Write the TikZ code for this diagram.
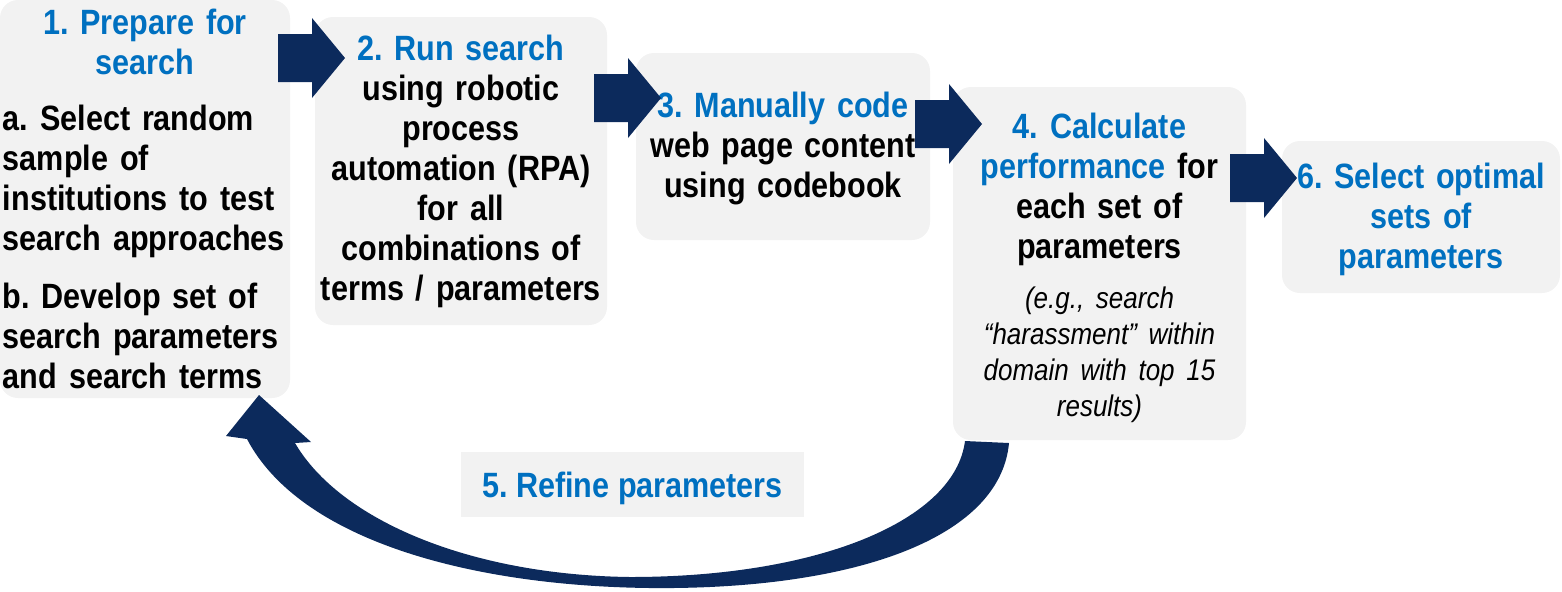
\documentclass[tikz,border=0pt]{standalone}
\usepackage{fontspec}
\setmainfont{Liberation Sans}[FakeStretch=0.87]
\usepackage{tikz}
\usetikzlibrary{positioning,calc}
\definecolor{colorbox}   {RGB}{242,242,242}
\definecolor{colortitle} {RGB}{  0,112,192}
\definecolor{colorarrow} {RGB}{ 12, 42, 92}
\definecolor{colortext}  {RGB}{  0,  0,  0}
\newcommand{\mainsize}{\fontsize{10}{11.38}\selectfont}
\newcommand{\notesize}{\fontsize{8.5}{10.25}\selectfont}
\newcommand{\topstrut}[1]{\rule{0pt}{#1}}
\frenchspacing

\begin{document}
\begin{tikzpicture}[
    font={\mainsize\bfseries},
    base/.style={fill=colorbox,text=colortext,inner xsep=0.03cm,inner ysep=0pt,align=center},
    stepbox/.style={base,rounded corners=0.18cm},
    title/.style={text=colortitle},
    blockarrow/.pic={\fill[colorarrow] (0,0.24) -- (0.34,0.24) -- (0.34,0.40) -- (0.67,0)
        -- (0.34,-0.40) -- (0.34,-0.24) -- (0,-0.24) -- cycle;},
]
    \useasboundingbox (0,0) rectangle (15.62,-5.91);

    \node[stepbox,text width=2.84cm,align=left,minimum width=2.90cm,minimum height=3.98cm] (prepare) at (1.45,-1.99)
        {{\centering\color{colortitle}1. Prepare for\\search\par}
         \vspace{0.16cm}a. Select random\\sample of\\institutions to test\\search approaches\par
         \vspace{0.18cm}b. Develop set of\\search parameters\\and search terms};
    \node[stepbox,text width=2.86cm,minimum width=2.92cm,minimum height=3.08cm] (run) at (4.61,-1.71)
        {\textcolor{colortitle}{2. Run search}\\using robotic\\process\\automation (RPA)\\for all\\combinations of\\terms / parameters};
    \node[stepbox,text width=2.88cm,minimum width=2.94cm,minimum height=1.87cm] (code) at (7.83,-1.465)
        {\topstrut{0.29cm}\textcolor{colortitle}{3. Manually code}\\web page content\\using codebook};
    \node[stepbox,text width=2.87cm,minimum width=2.93cm,minimum height=3.53cm] (calc) at (10.995,-2.635)
        {\topstrut{0.35cm}\textcolor{colortitle}{4. Calculate}\\\textcolor{colortitle}{performance} for\\each set of\\parameters\par
         \vspace{0.14cm}{\notesize\mdseries\itshape (e.g., search\\``harassment'' within\\domain with top 15\\results)\par}};
    \node[stepbox,title,text width=2.72cm,minimum width=2.78cm,minimum height=1.52cm] (select) at (14.21,-2.17)
        {\topstrut{0.31cm}6. Select optimal\\sets of\\parameters};
    \node[base,title,text depth=0pt,minimum width=3.43cm,minimum height=0.65cm] (refine) at (6.325,-4.845)
        {5. Refine parameters};

    % forward arrows
    \pic at (2.78,-0.58) {blockarrow};
    \pic at (5.94,-0.98) {blockarrow};
    \pic at (9.15,-1.24) {blockarrow};
    \pic at (12.30,-1.78) {blockarrow};

    % loop back from 4 to 1
    \fill[colorarrow] (9.65,-4.41) .. controls (9.55,-5.20) and (8.20,-5.77) .. (6.30,-5.77)
        .. controls (4.70,-5.75) and (3.40,-5.20) .. (2.95,-4.43)
        -- (3.11,-4.42) -- (2.59,-3.95) -- (2.26,-4.36) -- (2.47,-4.39)
        .. controls (3.00,-5.40) and (4.70,-5.86) .. (6.50,-5.88)
        .. controls (8.50,-5.90) and (10.00,-5.40) .. (10.09,-4.43) -- cycle;

\end{tikzpicture}
\end{document}
